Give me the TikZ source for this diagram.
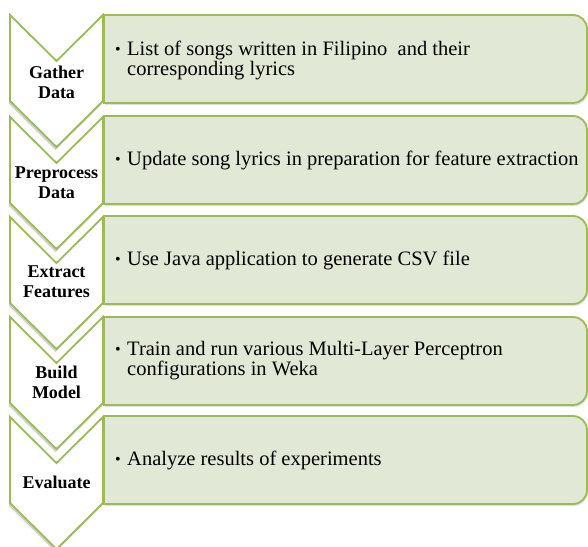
\documentclass[tikz,border=0pt]{standalone}
\usepackage{fontspec}
\setmainfont{Liberation Serif}
\usetikzlibrary{shadows}
\definecolor{olivegreen}{RGB}{155,187,89}
\definecolor{boxfill}{RGB}{225,232,213}
\tikzset{
  chevshape/.style={draw=olivegreen, line width=1.8pt, fill=white, line join=miter,
    drop shadow={shadow xshift=-1pt, shadow yshift=-3pt, fill=black, opacity=0.18}},
  boxshape/.style={draw=olivegreen, line width=1.8pt, fill=boxfill,
    drop shadow={shadow xshift=1pt, shadow yshift=-2pt, fill=black, opacity=0.12}},
  lbl/.style={font=\bfseries\fontsize{18}{20}\selectfont, align=center, anchor=base, inner sep=0pt},
  bul/.style={font=\fontsize{16}{20}\selectfont, anchor=base west, inner sep=0pt},
  body/.style={font=\fontsize{20.5}{20}\selectfont, align=left, anchor=base west, inner sep=0pt}
}
\newcommand\phasebox[2]{% #1 = top y (px), #2 = name
  \path[boxshape] (104,-#1) -- (573,-#1) arc(90:0:14) -- (587,-#1-74) arc(0:-90:14) -- (104,-#1-88) -- cycle;
}
\newcommand\phasechev[2]{%
  \path[chevshape] (10,-#1) -- (56.5,-#1-46) -- (103,-#1) -- (103,-#1-86) -- (56.5,-#1-132) -- (10,-#1-86) -- cycle;
}
\begin{document}
\begin{tikzpicture}[x=1pt,y=1pt]
\useasboundingbox (0,0) rectangle (588,-546);
% boxes
\phasebox{15}{b1}
\phasebox{116}{b2}
\phasebox{216}{b3}
\phasebox{317}{b4}
\phasebox{416}{b5}
% chevrons (bottom first so upper points lie on top)
\phasechev{417}{c5}
\phasechev{317}{c4}
\phasechev{217}{c3}
\phasechev{117}{c2}
\phasechev{15}{c1}
% chevron labels (anchor = baseline of last line)
\node[lbl] (l1) at (56.5,-98) {Gather\\Data};
\node[lbl] (l2) at (56.5,-198) {Preprocess\\Data};
\node[lbl] (l3) at (56.5,-297) {Extract\\Features};
\node[lbl] (l4) at (56.5,-398) {Build\\Model};
\node[lbl] (l5) at (56.5,-488) {Evaluate};
% bullets
\node[bul] (d1) at (115,-54) {\textbullet};
\node[body] (t1) at (127,-75) {List of songs written in Filipino\ \ and their\\corresponding lyrics};
\node[bul] (d2) at (115,-164) {\textbullet};
\node[body] (t2) at (127,-165) {Update song lyrics in preparation for feature extraction};
\node[bul] (d3) at (115,-264) {\textbullet};
\node[body] (t3) at (127,-265) {Use Java application to generate CSV\ file};
\node[bul] (d4) at (115,-354) {\textbullet};
\node[body] (t4) at (127,-375) {Train and run various Multi-Layer Perceptron\\configurations in Weka};
\node[bul] (d5) at (115,-464) {\textbullet};
\node[body] (t5) at (127,-465) {Analyze results of experiments};
\end{tikzpicture}
\end{document}
